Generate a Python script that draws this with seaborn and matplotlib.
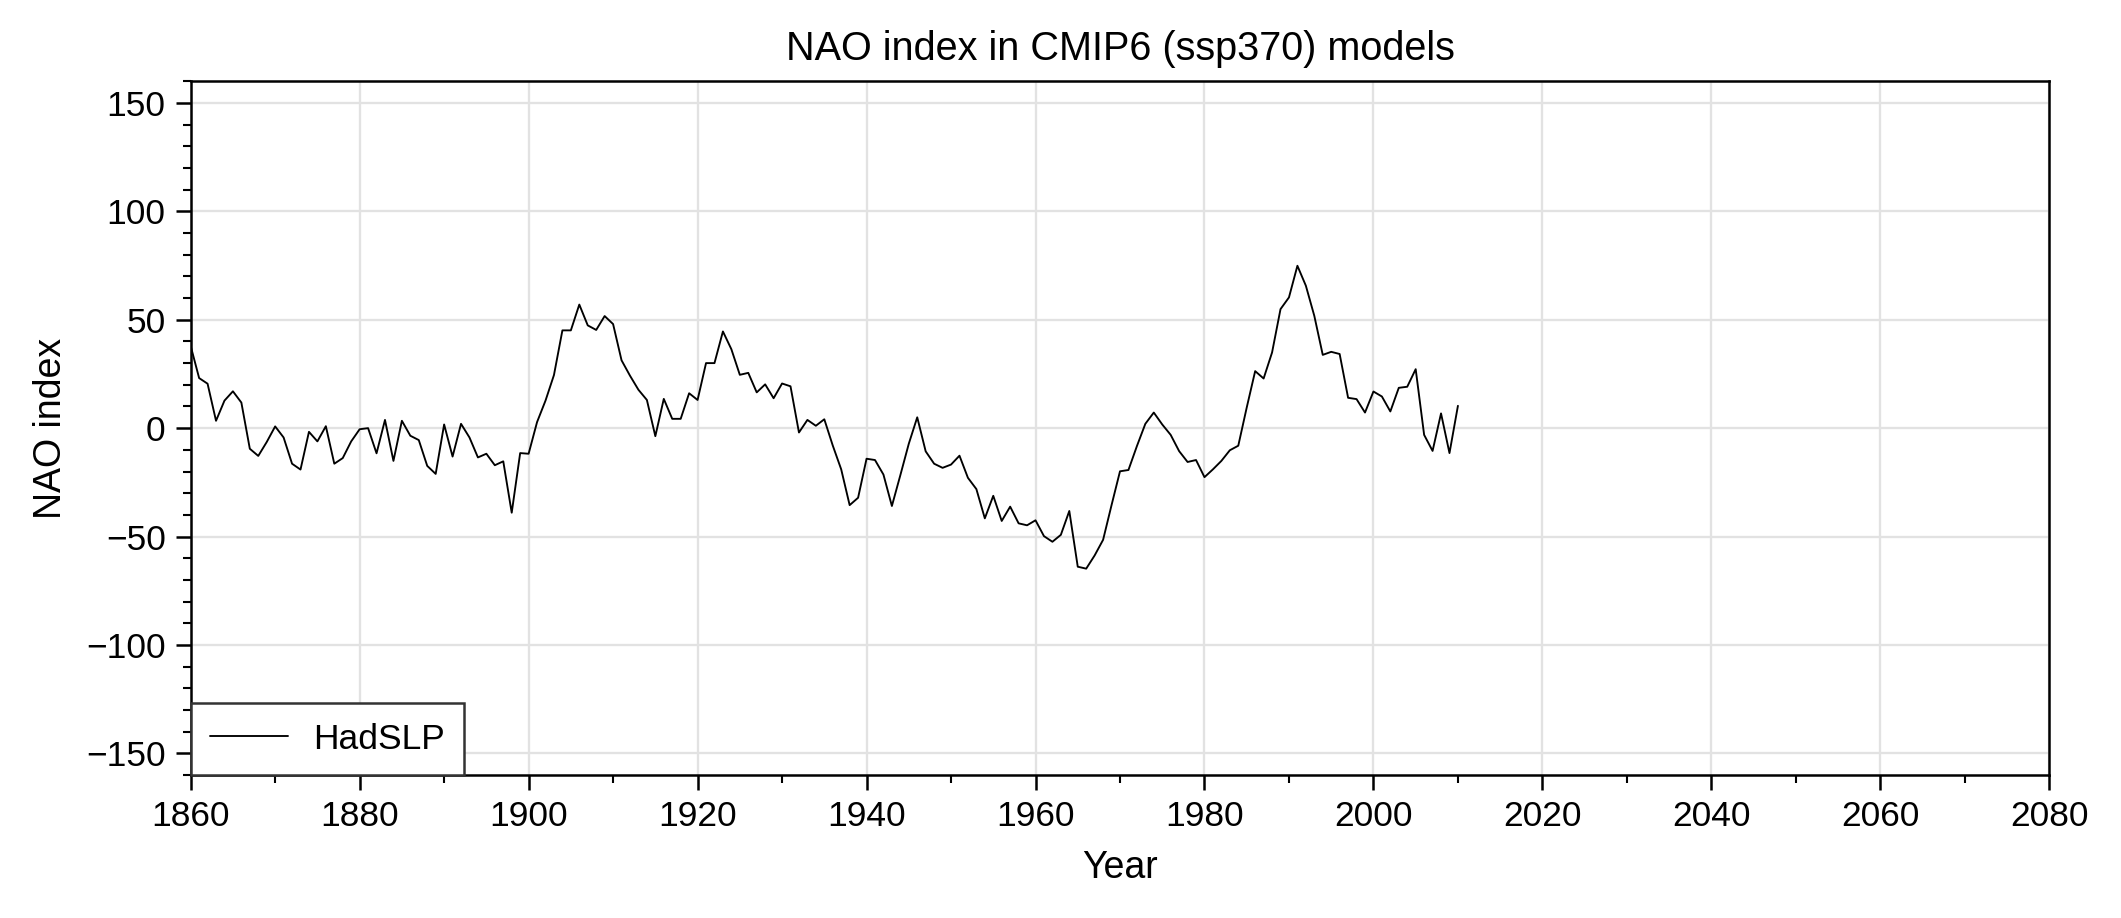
import numpy as np
import pandas as pd
import matplotlib
matplotlib.use("Agg")
import matplotlib.pyplot as plt
import seaborn as sns
from matplotlib.ticker import MultipleLocator


# HadSLP NAO index, annual values 1860-2010
years = list(range(1860, 2011))

nao_hadslp = [
    37.9, 23.1, 20.5, 3.4, 12.7, 17.0, 11.8, -9.5, -12.8, -6.4,
    0.8, -4.3, -16.4, -19.1, -1.7, -6.1, 0.9, -16.4, -13.8, -6.1,
    -0.5, 0.0, -11.6, 3.8, -15.1, 3.4, -3.5, -5.5, -17.4, -21.1,
    1.7, -13.1, 2.0, -4.3, -13.5, -11.8, -17.1, -15.3, -39.0, -11.5,
    -11.8, 2.8, 12.7, 24.5, 45.1, 45.1, 57.0, 47.4, 45.3, 51.7,
    48.0, 31.3, 24.2, 17.7, 13.0, -3.7, 13.5, 4.3, 4.3, 16.1,
    13.0, 30.0, 30.0, 44.6, 36.4, 24.6, 25.5, 16.5, 20.2, 13.8,
    20.6, 19.3, -2.0, 3.8, 1.1, 4.1, -8.0, -19.0, -35.5, -32.1,
    -14.1, -14.7, -21.4, -35.9, -21.7, -7.2, 5.0, -10.7, -16.4, -18.3,
    -16.8, -12.7, -22.9, -28.1, -41.6, -31.2, -42.8, -36.2, -43.9, -44.8,
    -42.5, -49.8, -52.4, -49.2, -38.2, -63.9, -64.8, -58.7, -51.5, -35.5,
    -19.9, -19.3, -8.3, 2.0, 7.2, 1.7, -3.1, -10.6, -15.6, -14.7,
    -22.6, -19.0, -15.1, -10.2, -8.1, 9.5, 26.3, 22.9, 34.9, 54.9,
    60.3, 74.9, 65.7, 51.8, 33.8, 35.2, 34.2, 14.0, 13.4, 7.2,
    16.9, 14.6, 7.7, 18.6, 19.1, 27.2, -3.1, -10.5, 6.8, -11.5,
    10.3,
]

series_label = "HadSLP"

TITLE = "NAO index in CMIP6 (ssp370) models"
X_LABEL = "Year"
Y_LABEL = "NAO index"


def main():

    df = pd.DataFrame({"Year": years, "NAO": nao_hadslp})

    sns.set_style("ticks")
    plt.rcParams["font.family"] = ["Liberation Sans", "DejaVu Sans"]
    plt.rcParams["axes.linewidth"] = 0.6
    plt.rcParams["text.color"] = "black"
    plt.rcParams["axes.labelcolor"] = "black"
    plt.rcParams["xtick.color"] = "black"
    plt.rcParams["ytick.color"] = "black"

    fig = plt.figure(figsize=(2121 / 300, 918 / 300), dpi=300)
    ax = fig.add_axes([0.0899, 0.1557, 0.8763, 0.7558])

    sns.lineplot(
        data=df,
        x="Year",
        y="NAO",
        color="black",
        linewidth=0.45,
        label=series_label,
        ax=ax
    )

    ax.set_xlim(1860, 2080)
    ax.set_ylim(-160, 160)

    ax.xaxis.set_major_locator(MultipleLocator(20))
    ax.xaxis.set_minor_locator(MultipleLocator(10))
    ax.yaxis.set_major_locator(MultipleLocator(50))
    ax.yaxis.set_minor_locator(MultipleLocator(10))

    ax.tick_params(which="major", direction="out", length=3.5, width=0.6,
                   labelsize=8.5, color="black", labelcolor="black", pad=2.5)
    ax.tick_params(which="minor", direction="out", length=2, width=0.5,
                   color="black")

    ax.grid(True, which="major", color="#e2e2e2", linewidth=0.55)
    ax.set_axisbelow(True)

    for side in ["top", "right", "bottom", "left"]:
        ax.spines[side].set_visible(True)
        ax.spines[side].set_color("black")
        ax.spines[side].set_linewidth(0.6)

    ax.set_title(TITLE, fontsize=9.5, pad=5, color="black")
    ax.set_xlabel(X_LABEL, fontsize=9, labelpad=4, color="black")
    ax.set_ylabel(Y_LABEL, fontsize=9, labelpad=4, color="black")

    leg = ax.legend(
        loc="lower left",
        borderaxespad=0,
        fancybox=False,
        framealpha=1,
        edgecolor="#333333",
        fontsize=8.5,
        handlelength=2.2,
        handletextpad=0.7,
        borderpad=0.55
    )
    leg.get_frame().set_linewidth(0.6)
    for line in leg.get_lines():
        line.set_linewidth(0.45)
    for text in leg.get_texts():
        text.set_color("black")

    fig.savefig("out.png", dpi=300)
    plt.close(fig)


if __name__ == "__main__":
    main()
